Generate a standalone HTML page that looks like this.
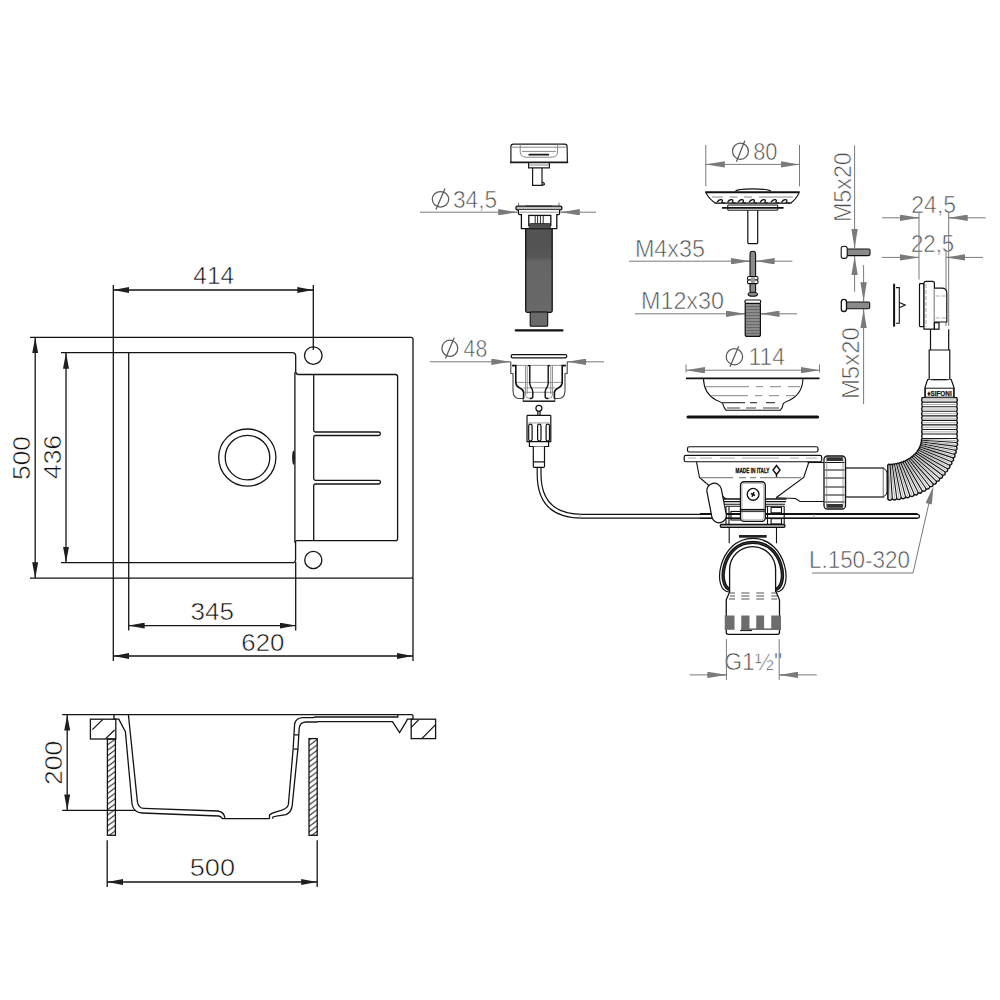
<!DOCTYPE html>
<html><head><meta charset="utf-8"><style>
html,body{margin:0;padding:0;background:#fff;}
svg{display:block;}
text{font-family:"Liberation Sans",sans-serif;}
</style></head><body>
<svg width="1000" height="1000" viewBox="0 0 1000 1000">
<defs>
<pattern id="hatch" patternUnits="userSpaceOnUse" x="107.4" y="739.6" width="7.2" height="5.4"><path d="M-7.2 5.4 L7.2 -5.4 M0 5.4 L7.2 0 M0 10.8 L14.4 0" stroke="#1a1a1a" stroke-width="0.95"/></pattern>
<pattern id="hatch2" patternUnits="userSpaceOnUse" x="309" y="740.2" width="7.2" height="5.4"><path d="M-7.2 5.4 L7.2 -5.4 M0 5.4 L7.2 0 M0 10.8 L14.4 0" stroke="#1a1a1a" stroke-width="0.95"/></pattern>
<marker id="ak" viewBox="0 0 16 6" refX="16" refY="3" markerWidth="16" markerHeight="6" markerUnits="userSpaceOnUse" orient="auto-start-reverse"><path d="M0 0 L16 3 L0 6 z" fill="#1e1e1e"/></marker>
<marker id="ag" viewBox="0 0 19 6.4" refX="19" refY="3.2" markerWidth="19" markerHeight="6.4" markerUnits="userSpaceOnUse" orient="auto-start-reverse"><path d="M0 0 L19 3.2 L0 6.4 z" fill="#7a7a7a"/></marker>
</defs>

<!-- ================= LEFT: TOP VIEW ================= -->
<g fill="none" stroke="#141414" stroke-width="1.3">
  <!-- outer rim -->
  <path d="M30 337.3 H411 Q413 337.3 413 339.3 V576.2 Q413 578.2 411 578.2 H30"/>
  <path d="M113.3 285 V661"/>
  <path d="M413 578 V661"/>
  <!-- basin -->
  <path d="M61 352.7 H292.1 Q295.7 352.7 295.7 356.3 V371.4 Q295.7 374.5 298.8 374.5"/>
  <path d="M294.9 372.3 V542.5"/>
  <path d="M295.6 542 V559.2 Q295.6 562.7 292.1 562.7 H61"/>
  <path d="M128.7 352.7 V630.5"/>
  <path d="M295.7 562 V630.5"/>
  <!-- drainer -->
  <path d="M298.8 374.5 H395.4 Q397.6 374.5 397.6 376.7 V538.4 Q397.6 540.6 395.4 540.6 H297 Q295 540.8 294.9 542.5"/>
  <path d="M313.7 374.7 V430.2 Q313.7 432 315.5 432 H378.6 A1.75 1.75 0 0 1 378.6 435.5 H315.5 Q313.7 435.5 313.7 437.3 V478.5 Q313.7 480.3 315.5 480.3 H378.6 A1.85 1.85 0 0 1 378.6 484 H315.5 Q313.7 484 313.7 485.8 V540.4"/>
  <!-- tap holes -->
  <circle cx="313.3" cy="355.6" r="8.8"/>
  <circle cx="313.3" cy="560" r="8.6"/>
  <path d="M313.3 285 V350"/>
  <!-- drain -->
  <circle cx="247.3" cy="457.6" r="28.6"/>
  <circle cx="247.5" cy="457.6" r="22.3"/>
</g>
<ellipse cx="293.6" cy="457.6" rx="1.5" ry="7.2" fill="#222"/>

<!-- dimension lines top view -->
<g stroke="#141414" stroke-width="1.3" fill="none">
  <path d="M113.3 290 H313.3" marker-start="url(#ak)" marker-end="url(#ak)"/>
  <path d="M35.2 337.3 V578.2" marker-start="url(#ak)" marker-end="url(#ak)"/>
  <path d="M66 352.7 V562.7" marker-start="url(#ak)" marker-end="url(#ak)"/>
  <path d="M128.7 625.6 H295.7" marker-start="url(#ak)" marker-end="url(#ak)"/>
  <path d="M113.3 656 H413" marker-start="url(#ak)" marker-end="url(#ak)"/>
</g>
<g fill="#0e0e0e" font-size="23.5" stroke="#fff" stroke-width="0.55">
  <text x="193.36" y="284.4" textLength="40.69" lengthAdjust="spacingAndGlyphs">414</text>
  <text x="190.57" y="620" textLength="43.47" lengthAdjust="spacingAndGlyphs">345</text>
  <text x="241.33" y="650.7" textLength="43.10" lengthAdjust="spacingAndGlyphs">620</text>
  <text transform="translate(29.5 480.04) rotate(-90)" textLength="44.05" lengthAdjust="spacingAndGlyphs">500</text>
  <text transform="translate(60.5 479.00) rotate(-90)" textLength="44.05" lengthAdjust="spacingAndGlyphs">436</text>
</g>

<!-- ================= LEFT: SIDE VIEW ================= -->
<g fill="none" stroke="#141414" stroke-width="1.3">
  <path d="M62.2 714.6 H411.6 Q413 714.6 413 716 V719.2"/>
  <path d="M62.2 810.4 H136"/>
  <!-- left countertop block -->
  <rect x="90.4" y="719.2" width="25.4" height="19.8"/>
  <path d="M92.4 729.6 L102.6 719.6 M105.6 738.6 L114.6 730"/>
  <!-- left cabinet wall -->
  <rect x="107.4" y="739" width="8" height="96.3" fill="url(#hatch)"/>
  <!-- sink left wall outer -->
  <path d="M114 714.6 V719.2 H118.8 L125.4 731.8 L132 804 Q133.5 812.5 142 813 L218.8 816 Q221 816.5 222.4 818.7"/>
  <!-- sink left wall inner -->
  <path d="M128.4 714.6 L137.4 802 Q138.5 808.2 144 808.4 L217.9 811 Q224.5 812 225 818.7"/>
  <path d="M222 818.7 H269.5"/>
  <!-- right wall -->
  <path d="M269.5 818.7 V815 Q271 813.2 276 811.8 L281.2 810.4 Q287.5 808.5 288.4 804.4 L293.2 748 L294.6 724 Q296 717.6 303 717.6 H313.6 L315 717 H397.8 V714.6"/>
  <path d="M272.8 818.7 V817 Q276 816 286 814.6 Q291.5 812 292.2 805.6 L298 748 L299.2 728 Q300 722 306.4 722 H316.5 L318.4 721.6 H392.4 L399.6 732.6 L406.2 721.6 L407.4 719.2 H413"/>
  <path d="M294 734.8 H298.6 M293.6 749.2 H298.2"/>
  <!-- right cabinet wall -->
  <rect x="309" y="738.6" width="8.2" height="96.7" fill="url(#hatch2)"/>
  <!-- right countertop block -->
  <rect x="411.2" y="719.2" width="24.4" height="19.4"/>
  <path d="M411.2 727.4 L418.8 719.6 M421.8 738.6 L435.6 724.6"/>
  <!-- 500 ext lines -->
  <path d="M107.2 840.3 V887 M317.2 840.3 V887"/>
</g>
<g stroke="#141414" stroke-width="1.3" fill="none">
  <path d="M67.2 714.6 V810.4" marker-start="url(#ak)" marker-end="url(#ak)"/>
  <path d="M107.2 882 H317.2" marker-start="url(#ak)" marker-end="url(#ak)"/>
</g>
<g fill="#0e0e0e" font-size="23.5" stroke="#fff" stroke-width="0.55">
  <text x="189.74" y="876.3" textLength="45.31" lengthAdjust="spacingAndGlyphs">500</text>
  <text transform="translate(61.8 785.04) rotate(-90)" textLength="44.26" lengthAdjust="spacingAndGlyphs">200</text>
</g>

<!-- ================= RIGHT: EXPLODED DRAIN ================= -->
<g id="right">
<!-- ===== dimension texts (gray) ===== -->
<g fill="#4d4d4d" font-size="23.5" stroke="#fff" stroke-width="0.6">
  <text x="452.95" y="207.5" textLength="44.10" lengthAdjust="spacingAndGlyphs">34,5</text>
  <text x="463.59" y="356.7" textLength="23.63" lengthAdjust="spacingAndGlyphs">48</text>
  <text x="753.16" y="159.6" textLength="24.26" lengthAdjust="spacingAndGlyphs">80</text>
  <text x="634.92" y="256.5" textLength="70.10" lengthAdjust="spacingAndGlyphs">M4x35</text>
  <text x="640.95" y="309" textLength="83.08" lengthAdjust="spacingAndGlyphs">M12x30</text>
  <text x="748.46" y="365.1" textLength="36.42" lengthAdjust="spacingAndGlyphs">114</text>
  <text x="911.33" y="213.1" textLength="44.73" lengthAdjust="spacingAndGlyphs">24,5</text>
  <text x="910.96" y="252.3" textLength="43.26" lengthAdjust="spacingAndGlyphs">22,5</text>
  <text x="808.94" y="567.6" textLength="101.09" lengthAdjust="spacingAndGlyphs">L.150-320</text>
  <text transform="translate(850.6 222.07) rotate(-90)" textLength="69.89" lengthAdjust="spacingAndGlyphs">M5x20</text>
  <text transform="translate(858.7 399.10) rotate(-90)" textLength="71.98" lengthAdjust="spacingAndGlyphs">M5x20</text>
  <text x="724.15" y="669.6" textLength="58.07" lengthAdjust="spacingAndGlyphs">G1½"</text>
</g>
<!-- diameter symbols -->
<g fill="none" stroke="#5a5a5a" stroke-width="1.25">
  <ellipse cx="440.5" cy="199.3" rx="8.2" ry="7.8"/><path d="M436 209.5 L445 188.5"/>
  <ellipse cx="449.85" cy="348.3" rx="7.95" ry="8.1"/><path d="M445.5 358.5 L454.2 337.8"/>
  <ellipse cx="740.45" cy="151.2" rx="7.95" ry="8.1"/><path d="M736.4 161.7 L744.8 140.7"/>
  <ellipse cx="734.4" cy="356.7" rx="8.2" ry="8.05"/><path d="M730 366.8 L738.7 346.2"/>
</g>
<!-- ===== gray dimension lines ===== -->
<g fill="none" stroke="#7a7a7a" stroke-width="1">
  <!-- 34,5 -->
  <path d="M420 212.2 H517.2"/><path d="M499 212.2 H517.2" marker-end="url(#ag)"/>
  <path d="M560.8 212.2 H596"/><path d="M579 212.2 H560.8" marker-end="url(#ag)"/>
  <path d="M518.6 202.5 V206 M559 202.5 V206"/>
  <!-- 48 -->
  <path d="M430 361.8 H510.4"/><path d="M491 361.8 H510.4" marker-end="url(#ag)"/>
  <path d="M567.2 361.8 H604"/><path d="M587 361.8 H567.2" marker-end="url(#ag)"/>
  <!-- 80 -->
  <path d="M705.8 145 V186.3 M799.5 145 V186.3"/>
  <path d="M705.8 164.4 H799.5" marker-start="url(#ag)" marker-end="url(#ag)"/>
  <!-- M4x35 -->
  <path d="M629 261.2 H750"/><path d="M731 261.2 H750" marker-end="url(#ag)"/>
  <path d="M755.6 261.2 H792.4"/><path d="M775 261.2 H755.6" marker-end="url(#ag)"/>
  <!-- M12x30 -->
  <path d="M635 313.8 H745"/><path d="M726 313.8 H745" marker-end="url(#ag)"/>
  <path d="M760.5 313.8 H797"/><path d="M779.5 313.8 H760.5" marker-end="url(#ag)"/>
  <!-- 114 -->
  <path d="M686 364.5 V372.5 M819.5 364.5 V372.5"/>
  <path d="M686 370.2 H819.5" marker-start="url(#ag)" marker-end="url(#ag)"/>
  <!-- 24,5 / 22,5 -->
  <path d="M882 217.8 H919"/><path d="M900 217.8 H919" marker-end="url(#ag)"/>
  <path d="M948.7 217.8 H985.6"/><path d="M967.6 217.8 H948.7" marker-end="url(#ag)"/>
  <path d="M882 257.4 H919"/><path d="M900 257.4 H919" marker-end="url(#ag)"/>
  <path d="M946 257.4 H983"/><path d="M965 257.4 H946" marker-end="url(#ag)"/>
  <path d="M919 211.5 V279.5 M948.7 211.5 V326 M946 251 V326"/>
  <!-- M5x20 upper -->
  <path d="M854.6 145.4 V248"/><path d="M854.6 229 V248" marker-end="url(#ag)"/>
  <path d="M854.6 256.3 V291.7"/><path d="M854.6 275 V256.3" marker-end="url(#ag)"/>
  <!-- M5x20 lower -->
  <path d="M863.6 265 V301.2"/><path d="M863.6 282.2 V301.2" marker-end="url(#ag)"/>
  <path d="M863.6 309.3 V404.2"/><path d="M863.6 328.3 V309.3" marker-end="url(#ag)"/>
  <!-- G1 1/2 -->
  <path d="M726.4 639.2 V680 M779.2 639.2 V680"/>
  <path d="M689.6 674.9 H726.4"/><path d="M707 674.9 H726.4" marker-end="url(#ag)"/>
  <path d="M779.2 674.9 H816.8"/><path d="M798.4 674.9 H779.2" marker-end="url(#ag)"/>
  <!-- L.150-320 leader -->
  <path d="M812 573 H913 L931.5 492"/>
</g>
<path d="M933.5 486 L925.6 503 L931.8 504.4 z" fill="#7a7a7a"/>
</g>

<!-- ===== PARTS ===== -->
<defs>
  <linearGradient id="thr" x1="0" y1="0" x2="0" y2="1">
    <stop offset="0" stop-color="#545454"/><stop offset="0.2" stop-color="#515151"/><stop offset="0.38" stop-color="#575757"/><stop offset="0.42" stop-color="#686868"/><stop offset="1" stop-color="#6c6c6c"/>
  </linearGradient>
</defs>
<!-- A: knob cap -->
<g fill="none" stroke="#1a1a1a" stroke-width="1.2">
  <path d="M510.9 162.2 V146.4 Q511 144.2 513.4 144.2 H564.8 Q567 144.2 567.1 146.4 L567.4 162.2" />
  <path d="M510 162.4 H568.2" stroke-width="1.8"/>
  <path d="M528.6 162.6 V167.8 H549.4 V162.6"/>
  <path d="M532.6 167.8 V185.3 H542 V167.8 M542 182 Q544.6 182.4 544.4 184.6 L542 185.3"/>
</g>
<g fill="none" stroke="#7a7a7a" stroke-width="0.9">
  <path d="M512 147.2 H566"/>
  <path d="M520.2 144.4 V152 Q520.6 157 526 157.2 H552 Q557.4 157 557.6 152 V144.4"/>
  <path d="M522 151.4 H556"/>
  <path d="M529 165 H549"/>
</g>
<rect x="528.4" y="153.8" width="20.8" height="1.8" rx="0.9" fill="#1a1a1a"/>

<!-- B: overflow body + threaded tube -->
<rect x="525.7" y="224" width="26.5" height="88.3" rx="1.5" fill="url(#thr)" stroke="#111" stroke-width="1.3"/>
<path d="M527 228.0 H551 M527 229.6 H551 M527 231.2 H551 M527 232.8 H551 M527 234.4 H551 M527 236.0 H551 M527 237.6 H551 M527 239.2 H551 M527 240.8 H551 M527 242.4 H551 M527 244.0 H551 M527 245.6 H551 M527 247.2 H551 M527 248.8 H551 M527 250.4 H551 M527 252.0 H551 M527 253.6 H551 M527 255.2 H551 M527 256.8 H551 M527 258.4 H551 M527 260.0 H551 M527 261.6 H551 M527 263.2 H551 M527 264.8 H551 M527 266.4 H551 M527 268.0 H551 M527 269.6 H551 M527 271.2 H551 M527 272.8 H551 M527 274.4 H551 M527 276.0 H551 M527 277.6 H551 M527 279.2 H551 M527 280.8 H551 M527 282.4 H551 M527 284.0 H551 M527 285.6 H551 M527 287.2 H551 M527 288.8 H551 M527 290.4 H551 M527 292.0 H551 M527 293.6 H551 M527 295.2 H551 M527 296.8 H551 M527 298.4 H551 M527 300.0 H551 M527 301.6 H551 M527 303.2 H551 M527 304.8 H551 M527 306.4 H551 M527 308.0 H551 M527 309.6 H551" stroke="#5e5e5e" stroke-width="0.5" opacity="0.6"/>
<rect x="530.2" y="312" width="17.5" height="14.3" rx="1" fill="#6a6a6a" stroke="#111" stroke-width="1.1"/>
<path d="M515.8 330.4 H562.4" stroke="#111" stroke-width="2.3" stroke-linecap="round"/>
<rect x="515.9" y="206.2" width="46" height="3.6" rx="1.6" fill="#bdbdbd" stroke="#111" stroke-width="1.3"/>
<path d="M525.6 206 H552.4" stroke="#222" stroke-width="0.9"/>
<g fill="#fff" stroke="#111" stroke-width="1.3">
  <path d="M518.4 209.9 V213.2 Q518.4 214.6 519.8 214.6 H521.4 V228.6 H556.8 V214.6 H558.2 Q559.6 214.6 559.6 213.2 V209.9"/>
  <rect x="528.8" y="215.4" width="22" height="10"/>
</g>
<path d="M535.2 215.6 V225.2 M537.6 215.6 V225.2 M540.4 215.6 V225.2 M543.2 215.6 V225.2" stroke="#111" stroke-width="0.9"/>
<path d="M519.5 212.2 H558.5" stroke="#7a7a7a" stroke-width="0.8"/>
<rect x="529.2" y="223.6" width="21.2" height="5" rx="1" fill="#505050" stroke="#222" stroke-width="0.8"/>

<!-- C: ring, cage, connector, cable -->
<rect x="511.2" y="354.6" width="55.6" height="3.2" rx="1.6" fill="none" stroke="#111" stroke-width="1.2"/>
<g fill="none">
  <path d="M510.8 361.8 V373.2 L513 373.6 V391 Q513.5 398.5 519 398.5 H523.2 V401.2 H554.8 V398.5 H559 Q564.5 398.5 565 391 V373.6 L567.2 373.2 V361.8" fill="#fff" stroke="#444" stroke-width="1.1"/>
  <path d="M512 365.4 H566 M516 382.4 H562 M523 387.9 H555 M524.5 392.3 H553.5" stroke="#888" stroke-width="0.9"/>
  <path d="M512.1 365.6 H515.8 V382.8 Q516.5 386.5 519 387.4 Q522.7 388.8 523.6 392 V398.5 M565.9 365.6 H562.2 V382.8 Q561.5 386.5 559 387.4 Q555.3 388.8 554.4 392 V398.5" stroke="#111" stroke-width="1.6"/>
  <path d="M528 365.6 H529.8 V383.8 Q530 386 532 389 Q532.8 390.5 532.8 392 V396.6 Q532.8 398.5 530.5 398.5 H529.6 M550 365.6 H548.2 V383.8 Q548 386 546 389 Q545.2 390.5 545.2 392 V396.6 Q545.2 398.5 547.5 398.5 H548.4" stroke="#111" stroke-width="1.4"/>
  <path d="M525.5 365.6 V395 Q526 398.5 529.6 398.5 M527.2 365.6 V394 M552.5 365.6 V395 Q552 398.5 548.4 398.5 M550.8 365.6 V394" stroke="#888" stroke-width="0.9"/>
  <path d="M523.2 401.2 H554.8" stroke="#111" stroke-width="1.2"/>
</g>
<!-- cable -->
<path d="M539.1 467.4 V474 Q539.1 516.2 582 516.2 H917.5" fill="none" stroke="#111" stroke-width="5" stroke-linecap="round"/>
<path d="M539.1 467.4 V474 Q539.1 516.2 582 516.2 H917.5" fill="none" stroke="#fff" stroke-width="2.6" stroke-linecap="round"/>
<path d="M580 513.8 V518.6 M814 513.8 V518.6" stroke="#999" stroke-width="0.8"/>
<!-- connector -->
<g fill="none" stroke="#111" stroke-width="1.2">
  <circle cx="538.9" cy="408.3" r="3"/>
  <path d="M537.8 411.2 V415.4 M540 411.2 V415.4"/>
  <path d="M527 441.6 V416.2 Q527 415.4 527.8 415.4 H550 Q550.8 415.4 550.8 416.2 V441.6 Z"/>
  <path d="M529.4 441.6 V446.5 H548.6 V441.6"/>
  <path d="M533.3 446.5 V466.6 Q533.3 467.4 534.2 467.4 H543.6 Q544.5 467.4 544.5 466.6 V446.5" fill="#fff"/>
  <path d="M533.6 461.9 H544.2"/>
  <rect x="528.7" y="424.2" width="3.4" height="16.8" rx="1.7"/>
  <rect x="537.6" y="424.2" width="3.4" height="16.8" rx="1.7"/>
  <rect x="546.1" y="424.2" width="3.4" height="16.8" rx="1.7"/>
</g>
<path d="M527.4 422.9 H550.4" stroke="#888" stroke-width="0.8"/>


<!-- D: strainer basket Ø80 -->
<g fill="none" stroke="#111" stroke-width="1.1">
  <path d="M735.4 191.4 Q737 188.9 753 188.9 Q769 188.9 770.8 191.4" stroke-width="1.2"/>
  <path d="M705.2 192.2 H799.7" stroke-width="2"/>
  <path d="M706 193 Q710 200 715.7 203.2 H790.3 Q795.6 200 799 193" stroke-width="1.1"/>
  <path d="M722.6 207.9 H783" stroke-width="1.6" stroke-linecap="round"/>
  <path d="M727.8 207.6 V205 H777.7 V207.6 M727.8 208.2 V210.2 H777.7 V208.2" stroke-width="1"/>
  <path d="M747.8 210.4 V242.8 Q747.8 243.6 748.6 243.6 H756.9 Q757.7 243.6 757.7 242.8 V210.4" stroke-width="1.2"/>
</g>
<path d="M712 197 H723 M729.5 197 H737.5 M744 197 H752 M759 197 H793" stroke="#888" stroke-width="1.1"/>
<path d="M717.0 202.6 Q718.5 199.2 721.5 199.6 Q723.2 200.4 721.8 202.2 Q723.0 203 725.0 202.8 M727.5 202.6 Q729.0 199.2 732.0 199.6 Q733.7 200.4 732.3 202.2 Q733.5 203 735.5 202.8 M738.0 202.6 Q739.5 199.2 742.5 199.6 Q744.2 200.4 742.8 202.2 Q744.0 203 746.0 202.8 M749.0 202.6 Q750.5 199.2 753.5 199.6 Q755.2 200.4 753.8 202.2 Q755.0 203 757.0 202.8 M760.0 202.6 Q761.5 199.2 764.5 199.6 Q766.2 200.4 764.8 202.2 Q766.0 203 768.0 202.8 M771.0 202.6 Q772.5 199.2 775.5 199.6 Q777.2 200.4 775.8 202.2 Q777.0 203 779.0 202.8 M781.5 202.6 Q783.0 199.2 786.0 199.6 Q787.7 200.4 786.3 202.2 Q787.5 203 789.5 202.8" fill="none" stroke="#111" stroke-width="1.3"/>
<path d="M714 203 H792" stroke="#333" stroke-width="0.9"/>

<!-- E: M4x35 bolt -->
<rect x="750" y="251.2" width="5.6" height="42" rx="2.8" fill="#8a8a8a" stroke="#111" stroke-width="1.1"/>
<ellipse cx="752.8" cy="294.2" rx="4.7" ry="2" fill="#8a8a8a" stroke="#111" stroke-width="1.1"/>
<rect x="747.5" y="276.5" width="10.5" height="3.6" rx="1.4" fill="#fff" stroke="#111" stroke-width="1.1"/>
<rect x="747.5" y="280" width="10.5" height="3.6" rx="1.4" fill="#fff" stroke="#111" stroke-width="1.1"/>
<rect x="750.8" y="277.3" width="4" height="5.6" fill="#9a9a9a"/>

<!-- F: M12x30 screw -->
<rect x="745.2" y="303" width="15.2" height="33.4" rx="2" fill="#8e8e8e" stroke="#111" stroke-width="1.2"/>
<g stroke="#555" stroke-width="0.7">
  <path d="M746 306.6 H760 M746 309.6 H760 M746 312.6 H760 M746 315.6 H760 M746 318.6 H760 M746 321.6 H760 M746 324.6 H760 M746 327.6 H760 M746 330.6 H760 M746 333.4 H760"/>
</g>
<rect x="745" y="300" width="15.6" height="3.4" rx="1" fill="#fff" stroke="#111" stroke-width="1.2"/>

<!-- G: strainer bowl Ø114 -->
<path d="M686 378.3 H819.5" stroke="#111" stroke-width="1.8"/>
<path d="M703.4 378.6 Q704 394 716 400 Q721 402 722.6 403.4 Q724 408 726 410.2 H780.4 Q782.6 408 783.4 403.4 Q785 402 790 400 Q802.4 394 803 378.6" fill="none" stroke="#111" stroke-width="1.1"/>
<g stroke="#777" stroke-width="0.9">
  <path d="M706 386.7 H749 M756 386.7 H763 M770 386.7 H781 M788 386.7 H800"/>
  <path d="M711 395.7 H748 M755 395.7 H762 M769 395.7 H779 M786 395.7 H796"/>
  <path d="M722 402.6 H745 M750 402.6 H757 M766 402.6 H775" stroke="#444" stroke-width="1.2"/>
  <path d="M727 408 H740 M746 408 H756 M763 408 H779" stroke="#444" stroke-width="1.1"/>
</g>
<path d="M688 417 H817.6" stroke="#111" stroke-width="3" stroke-linecap="round"/>

<!-- H: main drain body -->
<rect x="687.5" y="446.75" width="130.5" height="5.25" rx="1.8" fill="none" stroke="#111" stroke-width="1.2"/>
<rect x="684.2" y="455.3" width="137.5" height="6.45" rx="1.8" fill="none" stroke="#111" stroke-width="1.2"/>
<path d="M688 458 H696 M700 458 H712 M720 458 H735 M742 458 H779 M790 458 H799 M806 458 H817" stroke="#999" stroke-width="0.8"/>
<g fill="none" stroke="#111" stroke-width="1.1">
  <path d="M696.5 461.8 L699.5 477.5 L706.5 483.5"/>
  <path d="M809 461.8 L803.7 477.5 L776 497.7"/>
  <path d="M776 497.7 L795.5 498.5 L800 501.5 H824"/>
  <path d="M807.5 462.5 H824"/>
</g>
<path d="M701 477.6 H733 M739 477.6 H746 M750 477.6 H756 M760 477.6 H801" stroke="#8a8a8a" stroke-width="1.4"/>
<text x="735.5" y="473" font-size="7.2" font-weight="bold" fill="#111" stroke="#111" stroke-width="0.3" textLength="34" lengthAdjust="spacingAndGlyphs">MADE IN ITALY</text>
<path d="M776.5 465.5 L780 470 L776.5 474.5 L773 470 Z M776.5 474 V477" fill="#fff" stroke="#111" stroke-width="1.4"/>
<!-- collar -->
<g fill="none" stroke="#111" stroke-width="1.1">
  <path d="M706.5 483.5 L726 499"/>
  <path d="M722.5 499 H786.5" stroke-width="1.4"/>
  <path d="M724 501.6 H786" />
  <path d="M725 504.3 H785" />
  <path d="M726 506.2 H784.2 M726 506.2 V524.5 M784.2 506.2 V524.5"/>
  <rect x="731" y="511.45" width="10.4" height="8.55"/>
  <rect x="771.1" y="507.4" width="10.4" height="5.4"/>
  <rect x="771.1" y="518.65" width="10.4" height="5.35"/>
  <path d="M767.5 506.2 V524.5 M729 506.5 V524"/>
</g>
<rect x="720.25" y="524.5" width="64.75" height="2.8" rx="1.2" fill="#bbb" stroke="#111" stroke-width="1.3"/>
<!-- cable over collar -->
<path d="M700 513.7 H917.5 M700 518.3 H917.5" stroke="#111" stroke-width="1.2"/>
<!-- bracket -->
<rect x="740.5" y="481.75" width="24.8" height="39.65" rx="3.6" fill="#fff" stroke="#111" stroke-width="1.3"/>
<rect x="742" y="483.3" width="21.8" height="36.6" rx="2.6" fill="none" stroke="#999" stroke-width="0.8"/>
<path d="M741 509.7 H764.8" stroke="#111" stroke-width="1.6"/><path d="M741 511.6 H764.8" stroke="#111" stroke-width="0.9"/>
<circle cx="753.1" cy="494.35" r="5.9" fill="#fff" stroke="#111" stroke-width="1.3"/>
<path d="M751 493.5 L755 495.5 M752 496.8 L754 492" stroke="#111" stroke-width="1.5"/>
<!-- lever -->
<rect x="-7.3" y="-20" width="14.6" height="40" rx="7.3" transform="translate(716.6 503) rotate(-11)" fill="#fff" stroke="#111" stroke-width="1.2"/>
<!-- neck -->
<path d="M729.2 527.4 V543.2 M776.5 527.4 V543.2" stroke="#111" stroke-width="1.1"/>
<rect x="739" y="535" width="27.7" height="2.7" fill="#222"/>
<!-- J: elbow ring -->
<path d="M729.6 592 C711 592, 718 538.4, 752.8 538.4 C787.6 538.4, 794.6 592, 776 592" fill="#fff" stroke="#111" stroke-width="1.2"/>
<path d="M730 589.5 C717 586, 721.5 542.4, 752.8 542.4 C784.1 542.4, 788.6 586, 775.6 589.5" fill="none" stroke="#111" stroke-width="3.4"/>
<path d="M730 589.5 C717 586, 721.5 542.4, 752.8 542.4 C784.1 542.4, 788.6 586, 775.6 589.5" fill="none" stroke="#777" stroke-width="0.4"/>
<path d="M729.6 592 V569.5 A23 23 0 0 1 775.6 569.5 V592" fill="#fff" stroke="#111" stroke-width="1.3"/>

<!-- tailpiece -->
<path d="M729.6 592 L726.25 599.8 V632.3 Q726.25 634.3 728.25 634.3 H777.5 Q779.5 634.3 779.5 632.3 V599.8 L776.1 592" fill="#fff" stroke="#111" stroke-width="1.3"/>
<g fill="#6d6d6d">
  <rect x="724.75" y="615.5" width="9.75" height="14.3"/>
  <rect x="741.25" y="615.5" width="8.25" height="14.3"/>
  <rect x="756.25" y="615.5" width="7.85" height="14.3"/>
  <rect x="771.25" y="615.5" width="9.75" height="14.3"/>
  <rect x="741" y="628.4" width="40" height="1.6"/>
</g>
<g stroke="#555" stroke-width="1.1">
  <path d="M730 593 H735 M741.3 593 H749.5 M756.3 593 H764.1 M771.3 593 H776"/>
  <path d="M730 596 H735 M741.3 596 H749.5 M756.3 596 H764.1 M771.3 596 H777"/>
  <path d="M729 599 H735 M741.3 599 H749.5 M756.3 599 H764.1 M771.3 599 H777.3"/>
</g>
<path d="M740 630.6 H752" stroke="#111" stroke-width="1"/>

<!-- nut + pipe -->
<rect x="845.5" y="468" width="38" height="29" fill="#fff" stroke="#111" stroke-width="1.2"/>
<path d="M883.3 468.2 Q887 470 887 473 V492 Q887 495 883.3 496.8" fill="#fff" stroke="#111" stroke-width="1"/>
<path d="M883.3 468.6 V496.4" stroke="#888" stroke-width="0.8"/>
<rect x="824" y="456" width="21.5" height="53" rx="3.5" fill="#fff" stroke="#111" stroke-width="1.3"/>
<rect x="826.5" y="457.2" width="16.5" height="3.8" fill="#333"/>
<rect x="826.5" y="504" width="16.5" height="3.8" fill="#333"/>
<path d="M825 462.5 H844.5 M825 470 H844.5 M825 478 H844.5 M825 487 H844.5 M825 495 H844.5 M825 502 H844.5" stroke="#111" stroke-width="1.1"/>
<path d="M826.8 458 V507 M843 458 V507" stroke="#777" stroke-width="0.7"/>
<!-- hose -->
<path d="M887.80 465.20 Q888.87 463.40 890.06 465.14 Q891.01 463.29 892.30 464.97 Q893.13 463.08 894.53 464.69 Q895.23 462.76 896.73 464.29 Q897.30 462.34 898.89 463.78 Q899.33 461.82 901.00 463.17 Q901.30 461.19 903.06 462.45 Q903.22 460.47 905.05 461.62 Q905.08 459.66 906.97 460.70 Q906.86 458.75 908.80 459.68 Q908.56 457.76 910.55 458.57 Q910.17 456.68 912.20 457.38 Q911.68 455.53 913.74 456.10 Q913.09 454.31 915.17 454.75 Q914.40 453.01 916.49 453.33 Q915.58 451.66 917.68 451.85 Q916.66 450.24 918.74 450.31 Q917.60 448.78 919.67 448.72 Q918.42 447.28 920.47 447.08 Q919.11 445.73 921.12 445.41 Q919.66 444.16 921.64 443.71 Q920.08 442.56 922.00 441.99 Q920.36 440.94 922.23 440.25 Q920.50 439.32 922.30 438.50 Q921.00 436.23 922.30 433.96 Q921.00 431.68 922.30 429.41 Q921.00 427.14 922.30 424.87 Q921.00 422.59 922.30 420.32 Q921.00 418.05 922.30 415.78 Q921.00 413.51 922.30 411.23 Q921.00 408.96 922.30 406.69 Q921.00 404.42 922.30 402.14 Q921.00 399.87 922.30 397.60 H956.7 Q958.00 399.87 956.70 402.14 Q958.00 404.42 956.70 406.69 Q958.00 408.96 956.70 411.23 Q958.00 413.51 956.70 415.78 Q958.00 418.05 956.70 420.32 Q958.00 422.59 956.70 424.87 Q958.00 427.14 956.70 429.41 Q958.00 431.68 956.70 433.96 Q958.00 436.23 956.70 438.50 Q959.30 440.57 956.55 442.46 Q958.99 444.69 956.11 446.40 Q958.38 448.78 955.38 450.30 Q957.47 452.84 954.35 454.16 Q956.26 456.83 953.04 457.95 Q954.75 460.74 951.46 461.65 Q952.96 464.56 949.59 465.26 Q950.89 468.26 947.47 468.75 Q948.55 471.84 945.09 472.11 Q945.95 475.27 942.46 475.33 Q943.10 478.55 939.60 478.39 Q940.01 481.66 936.52 481.28 Q936.70 484.58 933.23 483.99 Q933.18 487.30 929.74 486.50 Q929.47 489.82 926.08 488.80 Q925.58 492.11 922.25 490.89 Q921.52 494.18 918.27 492.76 Q917.32 496.01 914.17 494.39 Q913.00 497.59 909.95 495.79 Q908.57 498.91 905.63 496.94 Q904.04 499.98 901.24 497.84 Q899.45 500.79 896.79 498.48 Q894.81 501.33 892.31 498.87 Q890.14 501.60 887.80 499.00 Z" fill="#fff" stroke="#111" stroke-width="1.4"/>
<g stroke="#1a1a1a" stroke-width="1.15">
  <path d="M922.3 438.5 L956.7 438.5 M922.2 440.2 L956.6 442.5 M922.0 442.0 L956.1 446.4 M921.6 443.7 L955.4 450.3 M921.1 445.4 L954.4 454.2 M920.5 447.1 L953.0 457.9 M919.7 448.7 L951.5 461.7 M918.7 450.3 L949.6 465.3 M917.7 451.9 L947.5 468.8 M916.5 453.3 L945.1 472.1 M915.2 454.8 L942.5 475.3 M913.7 456.1 L939.6 478.4 M912.2 457.4 L936.5 481.3 M910.5 458.6 L933.2 484.0 M908.8 459.7 L929.7 486.5 M907.0 460.7 L926.1 488.8 M905.0 461.6 L922.2 490.9 M903.1 462.4 L918.3 492.8 M901.0 463.2 L914.2 494.4 M898.9 463.8 L909.9 495.8 M896.7 464.3 L905.6 496.9 M894.5 464.7 L901.2 497.8 M892.3 465.0 L896.8 498.5 M890.1 465.1 L892.3 498.9 M887.8 465.2 L887.8 499.0"/>
  <path d="M922.3 402.15 H956.7 M922.3 406.70 H956.7 M922.3 411.25 H956.7 M922.3 415.80 H956.7 M922.3 420.35 H956.7 M922.3 424.90 H956.7 M922.3 429.45 H956.7 M922.3 434.00 H956.7"/>
</g>
<g stroke="#9a9a9a" stroke-width="0.8">
  <path d="M922.3 439.4 L956.7 440.5 M922.1 441.1 L956.4 444.4 M921.8 442.8 L955.8 448.4 M921.4 444.6 L954.9 452.2 M920.8 446.3 L953.7 456.1 M920.1 447.9 L952.3 459.8 M919.2 449.5 L950.6 463.5 M918.2 451.1 L948.6 467.0 M917.1 452.6 L946.3 470.4 M915.8 454.1 L943.8 473.7 M914.5 455.4 L941.1 476.9 M913.0 456.8 L938.1 479.9 M911.4 458.0 L934.9 482.7 M909.7 459.1 L931.5 485.3 M907.9 460.2 L927.9 487.7 M906.0 461.2 L924.2 489.9 M904.1 462.0 L920.3 491.9 M902.0 462.8 L916.2 493.6 M900.0 463.5 L912.1 495.1 M897.8 464.1 L907.8 496.4 M895.6 464.5 L903.4 497.4 M893.4 464.8 L899.0 498.2 M891.2 465.1 L894.6 498.7 M888.9 465.2 L890.1 499.0"/>
  <path d="M922.6 399.95 H956.4 M922.6 404.50 H956.4 M922.6 409.05 H956.4 M922.6 413.60 H956.4 M922.6 418.15 H956.4 M922.6 422.70 H956.4 M922.6 427.25 H956.4 M922.6 431.80 H956.4"/>
</g>
<!-- hose collar -->
<path d="M924.9 397.6 V387.8 L927.6 379.5 H951.2 L954.1 387.8 V397.6" fill="#fff" stroke="#111" stroke-width="1.2"/>
<rect x="925.4" y="388.2" width="28.2" height="9" fill="#fff" stroke="#111" stroke-width="1"/>
<text x="927.2" y="395.6" font-size="7.4" font-weight="bold" fill="#111" stroke="#111" stroke-width="0.25" textLength="24.5" lengthAdjust="spacingAndGlyphs">♦SIFONI</text>
<ellipse cx="939.5" cy="379.3" rx="10.3" ry="1.4" fill="none" stroke="#999" stroke-width="0.8"/>
<!-- overflow pipe -->
<g fill="#fff" stroke="#111" stroke-width="1.2">
  <path d="M929.2 379 V350 H949.8 V379"/>
  <path d="M930.5 350 V329.2 M948.7 350 V329.2"/>
</g>
<!-- L: overflow body -->
<path d="M894.1 283.7 V326.6" stroke="#111" stroke-width="2"/>
<path d="M896 287.6 H899.3 V323.3 H896" fill="#fff" stroke="#111" stroke-width="1.1"/>
<path d="M899.3 302.5 L905.2 305 L899.3 307.7" fill="none" stroke="#111" stroke-width="1.1"/>
<g fill="#fff" stroke="#111" stroke-width="1.2">
  <rect x="919.5" y="283.7" width="4.5" height="42.9" rx="0.8"/>
  <path d="M924 329.2 V283.4 Q924 281.4 926 281.4 H932.4 Q934.4 281.4 934.4 283.4 V329.2 Z"/>
  <path d="M934.4 288.2 H941.8 Q946.8 288.2 946.8 293.2 V322 H934.4"/>
  <rect x="934.4" y="322.7" width="4.6" height="6.5"/>
</g>
<path d="M926 284 V327 M935.6 296 H946 M935.6 318 H946" stroke="#888" stroke-width="0.7" stroke-dasharray="4 2"/>
<!-- K: M5 bolts -->
<g fill="#8a8a8a" stroke="#111" stroke-width="1.1">
  <rect x="846.5" y="249" width="23.5" height="6.6" rx="1.5"/>
  <rect x="841.2" y="246.2" width="6" height="12.2" rx="2.4" fill="#fff"/>
  <rect x="846" y="302" width="23.7" height="6.75" rx="1.5"/>
  <rect x="841.3" y="299.3" width="5.2" height="12.2" rx="2.6" fill="#fff" stroke-width="1.3"/>
</g>

</svg>
</body></html>
